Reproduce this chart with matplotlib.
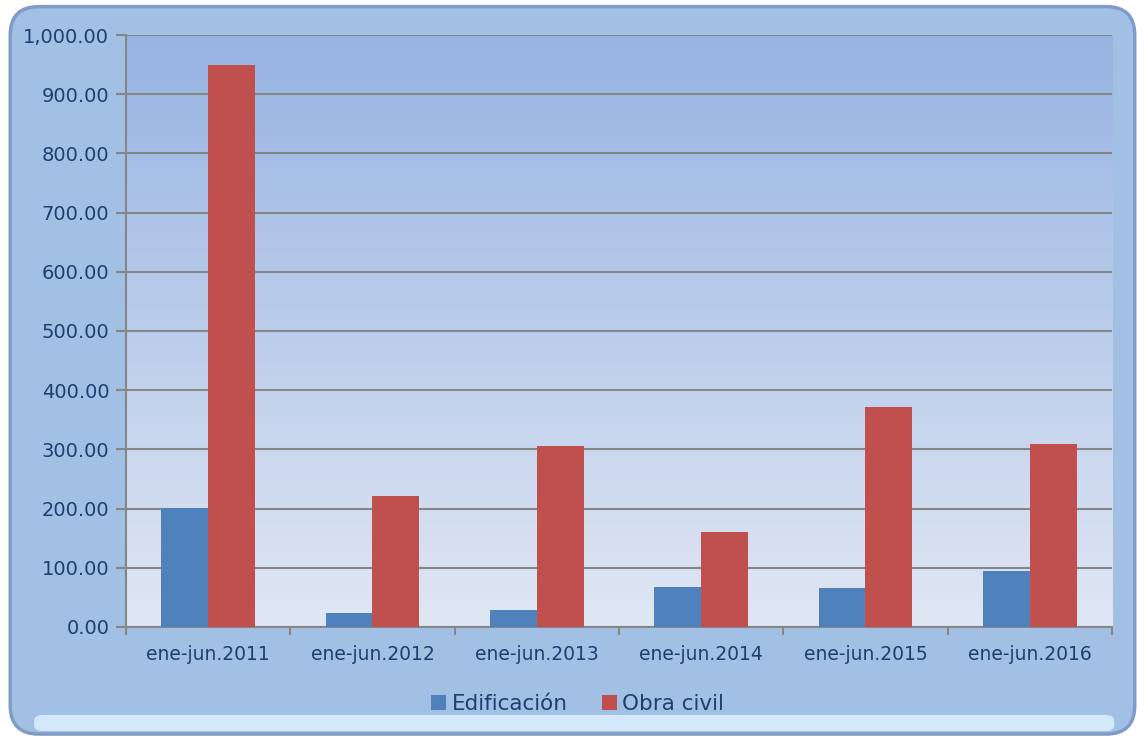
import numpy as np
import matplotlib.pyplot as plt
from matplotlib.patches import FancyBboxPatch
from matplotlib.colors import LinearSegmentedColormap

categories = ['ene-jun.2011', 'ene-jun.2012', 'ene-jun.2013',
              'ene-jun.2014', 'ene-jun.2015', 'ene-jun.2016']
edificacion = [201, 23, 29, 68, 65, 95]
obra_civil = [949, 221, 306, 160, 372, 309]

text_col = '#1f3f6e'

fig = plt.figure(figsize=(11.37, 7.37), dpi=100)
fig.patch.set_facecolor('white')

# rounded bevel frame behind everything
frame = FancyBboxPatch((0.009, 0.004), 0.989, 0.987,
                       boxstyle='round,pad=0,rounding_size=0.025',
                       transform=fig.transFigure, facecolor='#a2bfe4',
                       edgecolor='#7e9cc7', linewidth=2.5, zorder=-3,
                       mutation_aspect=1137 / 737)
fig.patches.append(frame)
# light highlight along bottom edge
hl = FancyBboxPatch((0.03, 0.008), 0.95, 0.022,
                    boxstyle='round,pad=0,rounding_size=0.008',
                    transform=fig.transFigure, facecolor='#d3e8fa',
                    edgecolor='none', zorder=-2)
fig.patches.append(hl)

ax = fig.add_axes([0.1108, 0.1493, 0.8672, 0.8032])
ax.set_facecolor('none')

# gradient for plot area
cmap = LinearSegmentedColormap.from_list('bg', ['#97b3e2', '#e0e7f4'])
grad = np.linspace(0, 1, 256).reshape(-1, 1)
ax.imshow(grad, cmap=cmap, aspect='auto', extent=[0, 1, 0, 1],
          transform=ax.transAxes, zorder=0)

x = np.arange(len(categories))
w = 0.285
ax.bar(x - w / 2, edificacion, w, color='#4f81bd', label='Edificación', zorder=3)
ax.bar(x + w / 2, obra_civil, w, color='#c0504d', label='Obra civil', zorder=3)

ax.set_xlim(-0.5, len(categories) - 0.5)
ax.set_ylim(0, 1000)
ax.set_yticks(np.arange(0, 1001, 100))
ax.set_yticklabels([f'{v:,.2f}' for v in np.arange(0, 1001, 100)])
ax.yaxis.grid(True, color='#868686', linewidth=1.5, zorder=1)
ax.set_axisbelow(True)

ax.set_xticks(x)
ax.set_xticklabels(categories)
ax.set_xticks(np.arange(-0.5, len(categories)), minor=True)
ax.tick_params(axis='x', which='major', length=0, pad=13,
               labelsize=13.5, labelcolor=text_col)
ax.tick_params(axis='x', which='minor', length=6, color='#868686', width=1.5)
ax.tick_params(axis='y', length=7, color='#868686', width=1.5,
               labelsize=14, labelcolor=text_col, pad=5)

for s in ['top', 'right']:
    ax.spines[s].set_visible(False)
for s in ['left', 'bottom']:
    ax.spines[s].set_color('#868686')
    ax.spines[s].set_linewidth(1.5)

leg = fig.legend(loc='center', bbox_to_anchor=(0.508, 0.045), ncol=2,
                 frameon=False, fontsize=15.5, handlelength=0.7,
                 handleheight=0.7, handletextpad=0.25, columnspacing=1.6)
for t in leg.get_texts():
    t.set_color(text_col)

fig.savefig('out.png', dpi=100, facecolor=fig.get_facecolor())
